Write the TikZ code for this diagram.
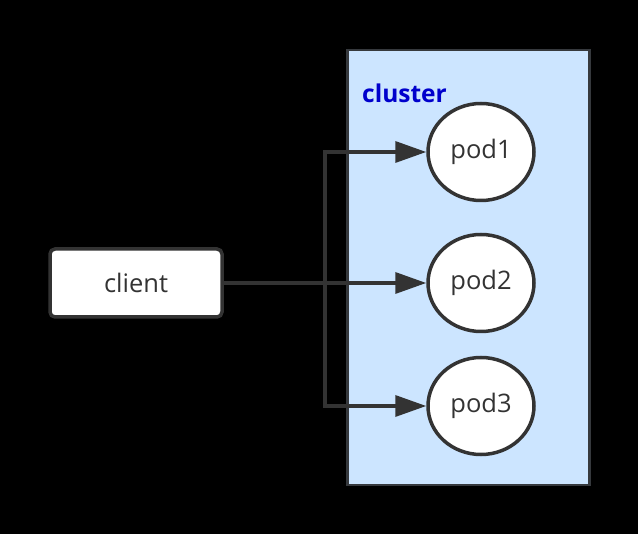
\documentclass[tikz,border=0pt]{standalone}
\usepackage{fontspec}
\setmainfont{Open Sans}
\usetikzlibrary{arrows.meta,shapes.geometric}
\definecolor{stroke}{HTML}{333333}
\definecolor{clfill}{HTML}{CCE5FF}
\definecolor{clborder}{HTML}{36393D}
\definecolor{cltext}{HTML}{0000CC}
\begin{document}
\begin{tikzpicture}[x=1pt,y=-1pt,
  podnode/.style={ellipse, draw=stroke, line width=3.5pt, fill=white, minimum width=106pt, minimum height=97pt, inner sep=0pt, text=stroke, font=\fontsize{25.5}{28}\selectfont},
  conn/.style={draw=stroke, line width=3.5pt, -{Triangle[length=31pt,width=21pt]}},
  plain/.style={draw=stroke, line width=3.5pt}]
\fill[black] (0,0) rectangle (638,534);
\useasboundingbox (0,0) rectangle (638,534);
\node[draw=clborder, line width=2.5pt, fill=clfill, minimum width=242pt, minimum height=435pt, anchor=north west, inner sep=0pt] (cluster) at (346,49) {};
\node[anchor=west, text=cltext, font=\bfseries\fontsize{24.5}{28}\selectfont, inner sep=0pt] (cllabel) at (362,93) {cluster};
\node[draw=stroke, line width=3.5pt, fill=white, rounded corners=5pt, minimum width=172pt, minimum height=68pt, inner sep=0pt, text=stroke, font=\fontsize{25.5}{28}\selectfont] (client) at (136,283) {client};
\node[podnode] (pod1) at (481,152) {pod1};
\node[podnode] (pod2) at (481,283) {pod2};
\node[podnode] (pod3) at (481,406) {pod3};
\coordinate (j) at (325,283);
\draw[plain] (client.east) -- (j);
\draw[conn] (j) -- (pod2.west);
\draw[conn] (j) |- (pod1.west);
\draw[conn] (j) |- (pod3.west);
\end{tikzpicture}
\end{document}
